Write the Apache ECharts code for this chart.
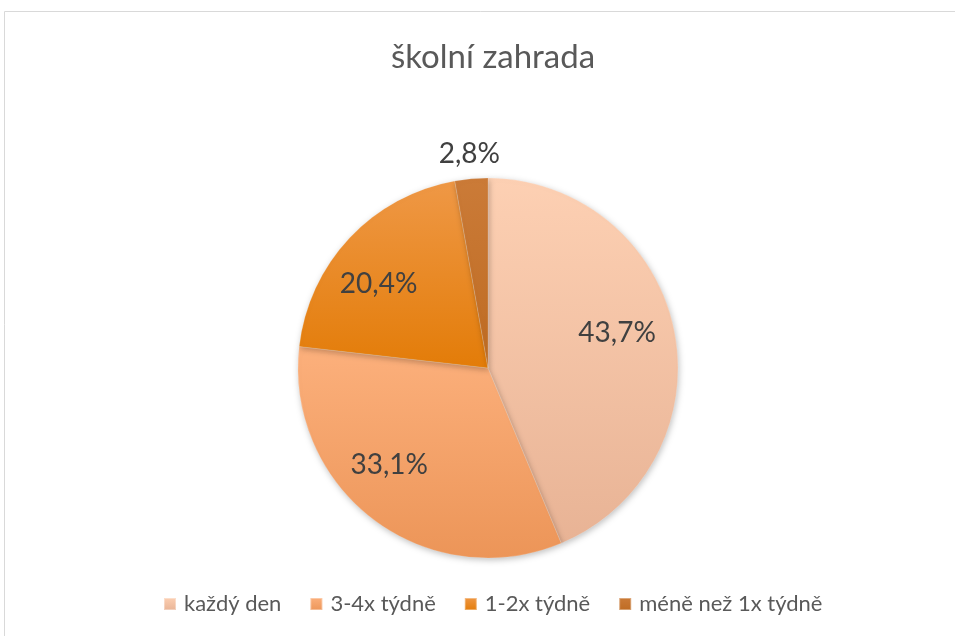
<!DOCTYPE html>
<html>
<head>
<meta charset="utf-8">
<title>školní zahrada</title>
<script src="https://cdn.jsdelivr.net/npm/echarts@6/dist/echarts.min.js"></script>
<style>
  html, body { margin: 0; padding: 0; background: #fff; }
  #chart { width: 955px; height: 636px; }
</style>
</head>
<body>
<div id="chart"></div>
<script>
const categories = ['každý den', '3-4x týdně', '1-2x týdně', 'méně než 1x týdně']
const values = [43.7, 33.1, 20.4, 2.8]
// top / bottom colours of each slice gradient
const topColors = ['#FDD0B3', '#FCB07C', '#EF9846', '#CB7B38']
const bottomColors = ['#E8B395', '#EC9558', '#E37C08', '#BE6B22']
const labelOffsets = [[33, -16], [-40, 19], [-38, -17], [-10, -116]]

const font = 'Lato, "Open Sans", sans-serif'

const myChart = echarts.init(document.getElementById('chart'))

const seriesData = categories.map(function (name, i) {
  return {
    name: name,
    value: values[i],
    itemStyle: {
      color: {
        type: 'linear', x: 0, y: 0, x2: 0, y2: 1,
        colorStops: [
          { offset: 0, color: topColors[i] },
          { offset: 1, color: bottomColors[i] }
        ]
      }
    },
    label: { offset: labelOffsets[i] }
  }
})

myChart.setOption({
  animation: false,
  title: {
    text: 'školní zahrada',
    left: 386,
    top: 36,
    textStyle: {
      fontFamily: font,
      fontSize: 33,
      fontWeight: 'normal',
      color: '#595959'
    }
  },
  legend: {
    data: categories,
    bottom: 16,
    left: 158,
    icon: 'rect',
    itemWidth: 12,
    itemHeight: 12,
    itemGap: 28,
    textStyle: {
      fontFamily: font,
      fontSize: 22,
      color: '#595959',
      padding: [0, 0, 0, 3]
    }
  },
  graphic: [{
    type: 'rect',
    shape: { x: 4.5, y: 11.5, width: 2000, height: 2000 },
    style: { fill: 'none', stroke: '#D9D9D9', lineWidth: 1 },
    silent: true
  }],
  series: [{
    type: 'pie',
    center: [488, 368],
    radius: 190,
    startAngle: 90,
    clockwise: true,
    avoidLabelOverlap: false,
    itemStyle: {
      borderColor: 'rgba(255,255,255,0.35)',
      borderWidth: 0.5,
      shadowBlur: 6,
      shadowOffsetX: 1,
      shadowOffsetY: 2,
      shadowColor: 'rgba(0,0,0,0.25)'
    },
    label: {
      show: true,
      position: 'inside',
      fontFamily: font,
      fontSize: 28,
      color: '#404040',
      formatter: function (p) {
        return p.value.toFixed(1).replace('.', ',') + '%'
      }
    },
    labelLine: { show: false },
    emphasis: { disabled: true },
    data: seriesData
  }]
})
</script>
</body>
</html>
